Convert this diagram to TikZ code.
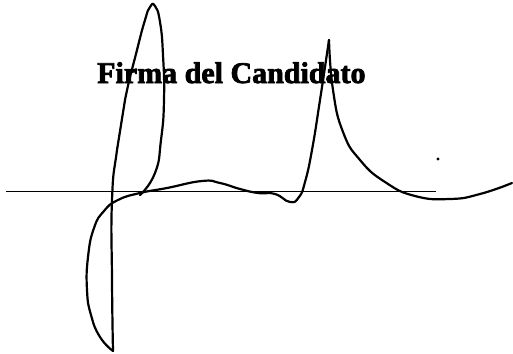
\documentclass[tikz,border=0pt]{standalone}
\usepackage{fontspec}
\setmainfont{Liberation Serif}
\newfontfamily\firmafont[BoldFeatures={FakeBold=2.5}]{Liberation Serif}
\begin{document}
\begin{tikzpicture}[x=1pt,y=-1pt,
    firma/.style={line width=2.2pt,line cap=round,line join=round},
    riga/.style={line width=1.3pt}]
            {
    \useasboundingbox (0,0) rectangle (513,353);

    \def\firstloop{plot[smooth,tension=0.9] coordinates {(140,195) (155,173) (161,140) (164,100) (163,55) (160,22) (155,6) (150,7) (145,20) (137,50) (125,100) (117,150) (112,200) (112,280) (113,351)}}
    \def\secondloop{plot[smooth,tension=0.85] coordinates {(113,351) (100,337) (91,315) (87,290) (88,257) (94,228) (104,211) (118,200) (140,193) (167,188) (202,181) (220,183) (240,189) (258,193) (275,194) (290,202) (299,197) (305,182) (312,150) (320,100) (329,40)}}
    \def\tail{plot[smooth,tension=0.85] coordinates {(329,40) (333,90) (343,132) (360,160) (385,182) (415,196) (450,199) (480,194) (512,183)}}

    \coordinate (lineleft) at (6,191.5);
    \coordinate (lineright) at (436,191.5);
    \draw[riga] (lineleft) -- (lineright);

    \node[anchor=base west,inner sep=0pt,font=\firmafont\fontsize{30}{30}\selectfont\bfseries] (titolo) at (97,83) {Firma del Candidato};

    \draw[firma] \firstloop;
    \draw[firma] \secondloop;
    \draw[firma] \tail;
    \fill (438,159) circle (1.6);
}

        \end{tikzpicture}
\end{document}
